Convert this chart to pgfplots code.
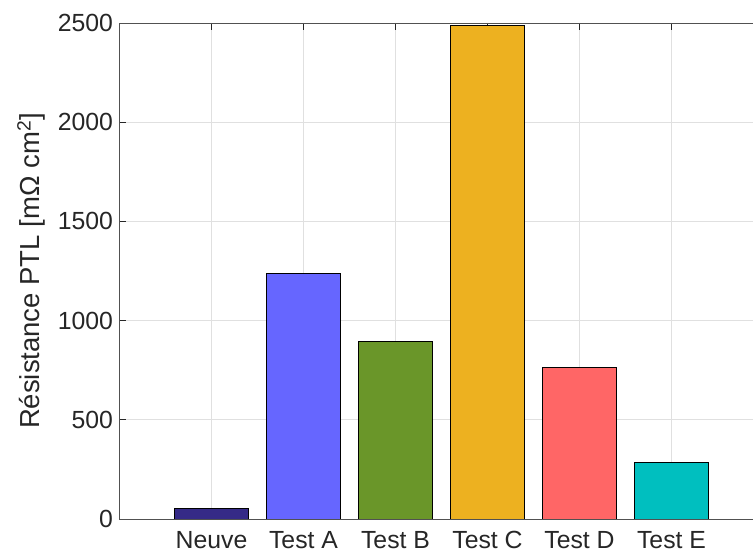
\documentclass[border=0pt]{standalone}
\usepackage{pgfplots}
\pgfplotsset{compat=1.18}
\usepackage{fontspec}
\setmainfont{Liberation Sans}
\definecolor{cN}{HTML}{352A87}
\definecolor{cA}{HTML}{6666FF}
\definecolor{cB}{HTML}{6A9629}
\definecolor{cC}{HTML}{EDB120}
\definecolor{cD}{HTML}{FF6666}
\definecolor{cE}{HTML}{00BFBF}
\definecolor{axc}{HTML}{262626}
\begin{document}
\begin{tikzpicture}
\begin{axis}[
  name=ax,
  scale only axis,
  width=644pt, height=496pt,
  xmin=0, xmax=7,
  ymin=0, ymax=2500,
  xtick={1,2,3,4,5,6},
  xticklabels={Neuve,Test A,Test B,Test C,Test D,Test E},
  ytick={0,500,1000,1500,2000,2500},
  tick align=inside,
  xtick pos=both, ytick pos=both,
  major tick length=7pt,
  grid=major,
  major grid style={color=black!12, line width=0.6pt},
  axis line style={color=axc!80, line width=0.9pt},
  every tick/.style={color=axc, line width=0.8pt},
  tick label style={font=\fontsize{24.8}{29}\selectfont, color=axc},
  /pgf/number format/assume math mode=true,
  scaled y ticks=false,
  yticklabel style={/pgf/number format/1000 sep={}, xshift=-3pt},
  ylabel={Résistance PTL [mΩ cm\textsuperscript{2}]},
  ylabel style={font=\fontsize{27.5}{32}\selectfont, color=axc, at={(axis description cs:-0.137,0.5)}, anchor=center},
  xticklabel style={yshift=-9pt},
]
\addplot[ybar, bar width=74pt, bar shift=0pt, fill=cN, draw=black, line width=0.8pt] coordinates {(1,54)};
\addplot[ybar, bar width=74pt, bar shift=0pt, fill=cA, draw=black, line width=0.8pt] coordinates {(2,1240)};
\addplot[ybar, bar width=74pt, bar shift=0pt, fill=cB, draw=black, line width=0.8pt] coordinates {(3,896)};
\addplot[ybar, bar width=74pt, bar shift=0pt, fill=cC, draw=black, line width=0.8pt] coordinates {(4,2487)};
\addplot[ybar, bar width=74pt, bar shift=0pt, fill=cD, draw=black, line width=0.8pt] coordinates {(5,764)};
\addplot[ybar, bar width=74pt, bar shift=0pt, fill=cE, draw=black, line width=0.8pt] coordinates {(6,286)};
\end{axis}
\pgfresetboundingbox
\path ([shift={(-119.5pt,-35pt)}]ax.south west) rectangle ([shift={(633.5pt,23pt)}]ax.north west);
\end{tikzpicture}
\end{document}
